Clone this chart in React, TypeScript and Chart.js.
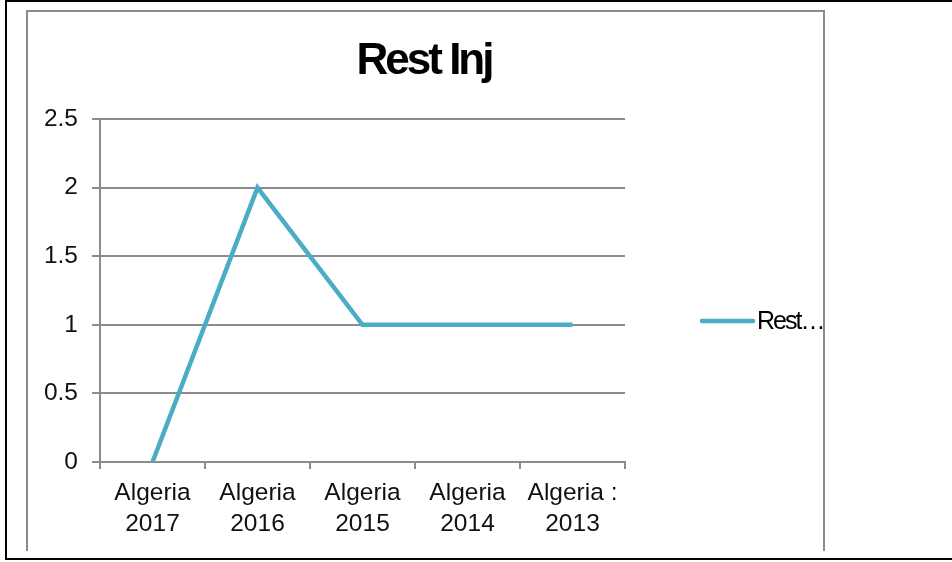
import React, { useEffect, useRef } from "react";
import Chart from "chart.js/auto";

const title = "Rest Inj";
const seriesName = "Rest…";
const categories: string[][] = [
  ["Algeria", "2017"],
  ["Algeria", "2016"],
  ["Algeria", "2015"],
  ["Algeria", "2014"],
  ["Algeria :", "2013"],
];
const values: number[] = [0, 2, 1, 1, 1];
const yMin = 0;
const yMax = 2.5;
const yStep = 0.5;

const LINE_COLOR = "#4BACC6";
const GRID_COLOR = "#8c8c8c";
const FONT = "'Liberation Sans', Arial, sans-serif";

const overlayPlugin = {
  id: "overlay",
  afterDraw(chart: any) {
    const ctx = chart.ctx as CanvasRenderingContext2D;
    ctx.save();
    // title
    ctx.fillStyle = "#000";
    ctx.font = `bold 44px ${FONT}`;
    (ctx as any).letterSpacing = "-3px";
    ctx.textAlign = "center";
    ctx.textBaseline = "alphabetic";
    ctx.fillText(title, 424, 74);
    // legend
    ctx.strokeStyle = LINE_COLOR;
    ctx.lineWidth = 4.5;
    ctx.lineCap = "round";
    ctx.beginPath();
    ctx.moveTo(702, 321);
    ctx.lineTo(753, 321);
    ctx.stroke();
    ctx.font = `25px ${FONT}`;
    (ctx as any).letterSpacing = "-2px";
    ctx.textAlign = "left";
    ctx.fillText(seriesName, 757, 329);
    ctx.restore();
  },
};

export default function App() {
  const ref = useRef<HTMLCanvasElement>(null);
  useEffect(() => {
    if (!ref.current) return;
    const chart = new Chart(ref.current, {
      type: "line",
      data: {
        labels: categories,
        datasets: [
          {
            label: seriesName,
            data: values,
            borderColor: LINE_COLOR,
            backgroundColor: LINE_COLOR,
            borderWidth: 4.5,
            pointRadius: 0,
            tension: 0,
          },
        ],
      },
      options: {
        animation: false,
        responsive: false,
        devicePixelRatio: 1,
        layout: { padding: { left: 0, right: 327, top: 119, bottom: 0 } },
        plugins: {
          legend: { display: false },
          title: { display: false },
          tooltip: { enabled: false },
        },
        scales: {
          x: {
            offset: true,
            afterFit: (s: any) => {
              s.height = 100;
            },
            grid: {
              offset: true,
              drawOnChartArea: false,
              drawTicks: true,
              tickLength: 7,
              color: GRID_COLOR,
              lineWidth: 2,
            },
            border: { color: GRID_COLOR, width: 2 },
            ticks: {
              color: "#111",
              font: { family: FONT, size: 24.5, lineHeight: 1.27 },
              padding: 9,
              maxRotation: 0,
              autoSkip: false,
            },
          },
          y: {
            min: yMin,
            max: yMax,
            afterFit: (s: any) => {
              s.width = 100;
            },
            grid: {
              color: GRID_COLOR,
              lineWidth: 2,
              drawTicks: true,
              tickLength: 8,
            },
            border: { color: GRID_COLOR, width: 2 },
            ticks: {
              stepSize: yStep,
              color: "#111",
              font: { family: FONT, size: 24.5 },
              padding: 14,
              callback: (v: any) => String(v),
            },
          },
        },
      },
      plugins: [overlayPlugin],
    });
    return () => chart.destroy();
  }, []);

  return (
    <div style={{ position: "absolute", left: 0, top: 0, width: 952, height: 562, background: "#fff", overflow: "hidden" }}>
      <div
        style={{
          position: "absolute",
          left: 5,
          top: 0,
          width: 1000,
          height: 560,
          boxSizing: "border-box",
          borderTop: "2px solid #000",
          borderLeft: "2px solid #000",
          borderBottom: "2px solid #000",
        }}
      />
      <div
        style={{
          position: "absolute",
          left: 26,
          top: 10,
          width: 799,
          height: 541,
          boxSizing: "border-box",
          borderTop: "2px solid #8a8a8a",
          borderLeft: "2px solid #8a8a8a",
          borderRight: "2px solid #8a8a8a",
        }}
      />
      <canvas ref={ref} width={952} height={562} style={{ position: "absolute", left: 0, top: 0 }} />
    </div>
  );
}
